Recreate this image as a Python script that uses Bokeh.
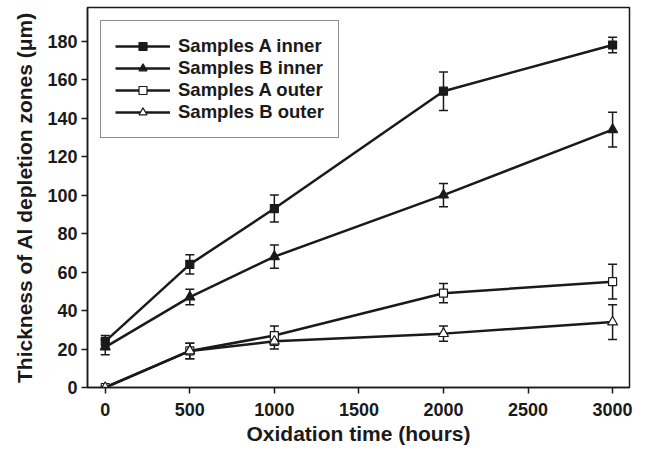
from bokeh.plotting import figure
from bokeh.models import ColumnDataSource, Whisker, Legend, LegendItem, Range1d, FixedTicker
from bokeh.embed import file_html
from bokeh.resources import INLINE

hours = [0, 500, 1000, 2000, 3000]
a_inner = [24, 64, 93, 154, 178]
a_inner_err = [3, 5, 7, 10, 4]
b_inner = [21, 47, 68, 100, 134]
b_inner_err = [4, 4, 6, 6, 9]
a_outer = [0, 19, 27, 49, 55]
a_outer_err = [0, 4, 5, 5, 9]
b_outer = [0, 19, 24, 28, 34]
b_outer_err = [0, 4, 4, 4, 9]

x_ticks = [0, 500, 1000, 1500, 2000, 2500, 3000]
y_ticks = [0, 20, 40, 60, 80, 100, 120, 140, 160, 180]

FONT = "Liberation Sans"
INK = "#1a1a1a"

p = figure(width=640, height=447, output_backend="svg", toolbar_location=None,
           x_range=Range1d(-105, 3100), y_range=Range1d(0, 197.5),
           min_border_left=87, min_border_right=11, min_border_top=7, min_border_bottom=60)
p.grid.visible = False
p.outline_line_color = INK
p.outline_line_width = 1.5
p.background_fill_color = "white"
p.border_fill_color = "white"

for ax in (p.xaxis[0], p.yaxis[0]):
    ax.axis_line_color = INK
    ax.axis_line_width = 1.5
    ax.major_tick_line_color = INK
    ax.major_tick_line_width = 1.5
    ax.major_tick_out = 6
    ax.major_tick_in = 0
    ax.minor_tick_line_color = None
    ax.major_label_text_font = FONT
    ax.major_label_text_font_style = "bold"
    ax.major_label_text_font_size = "18px"
    ax.major_label_text_color = INK
    ax.axis_label_text_font = FONT
    ax.axis_label_text_font_style = "bold"
    ax.axis_label_text_font_size = "21px"
    ax.axis_label_text_color = INK

p.xaxis.ticker = FixedTicker(ticks=x_ticks)
p.yaxis.ticker = FixedTicker(ticks=y_ticks)
p.xaxis.axis_label = "Oxidation time (hours)"
p.yaxis.axis_label = "Thickness of Al depletion zones (μm)"
p.xaxis.major_label_standoff = 9
p.yaxis.major_label_standoff = 4
p.xaxis.axis_label_standoff = 3
p.yaxis.axis_label_standoff = 8

series = [
    ("Samples A inner", a_inner, a_inner_err, "square", INK, 8),
    ("Samples B inner", b_inner, b_inner_err, "triangle", INK, 10),
    ("Samples A outer", a_outer, a_outer_err, "square", "white", 8),
    ("Samples B outer", b_outer, b_outer_err, "triangle", "white", 10),
]

items = []
for label, vals, errs, marker, fill, size in series:
    src = ColumnDataSource(dict(x=hours, y=vals,
                                lo=[v - e for v, e in zip(vals, errs)],
                                hi=[v + e for v, e in zip(vals, errs)]))
    ln = p.line("x", "y", source=src, line_color=INK, line_width=2.5)
    w = Whisker(base="x", lower="lo", upper="hi", source=src, dimension="height",
                line_color=INK, line_width=1.5)
    w.upper_head.size = 9
    w.lower_head.size = 9
    w.upper_head.line_color = INK
    w.lower_head.line_color = INK
    w.upper_head.line_width = 1.5
    w.lower_head.line_width = 1.5
    p.add_layout(w)
    sc = p.scatter("x", "y", source=src, marker=marker, size=size,
                   fill_color=fill, line_color=INK, line_width=1.2)
    items.append(LegendItem(label=label, renderers=[ln, sc]))

legend = Legend(items=items, location="top_left")
legend.margin = 13
legend.padding = 14
legend.spacing = 0
legend.glyph_width = 55
legend.glyph_height = 20
legend.label_height = 20
legend.label_standoff = 8
legend.label_text_font = FONT
legend.label_text_font_style = "bold"
legend.label_text_font_size = "18.5px"
legend.label_text_color = INK
legend.border_line_color = INK
legend.border_line_width = 1.5
legend.background_fill_color = "white"
p.add_layout(legend)

open("out.html", "w").write(file_html(p, INLINE))
